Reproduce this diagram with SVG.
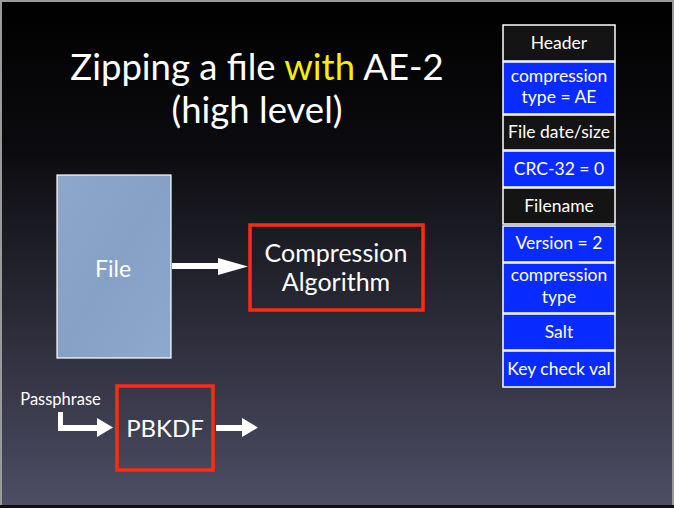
<svg xmlns="http://www.w3.org/2000/svg" width="674" height="508" viewBox="0 0 674 508">
<defs>
<linearGradient id="bg" x1="0" y1="0" x2="0" y2="1">
<stop offset="0" stop-color="#000000"/>
<stop offset="0.3" stop-color="#0c0c10"/>
<stop offset="0.6" stop-color="#282834"/>
<stop offset="1" stop-color="#4d4d65"/>
</linearGradient>
<linearGradient id="filebg" x1="0" y1="0" x2="1" y2="1">
<stop offset="0" stop-color="#8ea7cb"/>
<stop offset="0.5" stop-color="#86a0c6"/>
<stop offset="1" stop-color="#8fa8cc"/>
</linearGradient>
<style>
text{font-family:Lato,"Open Sans","Liberation Sans",sans-serif;fill:#ffffff;text-anchor:middle}
.title{font-size:36.5px}
.cell{font-size:17.5px}
.big{font-size:25px}
.blk{fill:#141414;stroke:#ffffff;stroke-width:1.5}
.blu{fill:#0a2bff;stroke:#ffffff;stroke-width:1.5}
.red{fill:none;stroke:#ff2a14;stroke-width:3.5}
.arr{fill:#ffffff}
</style>
</defs>
<rect x="0" y="0" width="674" height="508" fill="#9a9a9a"/>
<rect x="2" y="2" width="670" height="503" fill="url(#bg)"/>
<rect x="0" y="505" width="674" height="3" fill="#111111"/>

<g id="title">
<text class="title" x="257" y="80">Zipping a file <tspan fill="#f5f000" style="fill:#f5f000">with</tspan> AE-2</text>
<text class="title" x="257" y="123">(high level)</text>
</g>

<g id="header-column">
<g id="cell-header"><rect class="blk" x="503" y="25" width="112" height="36"/><text class="cell" x="559" y="49">Header</text></g>
<g id="cell-comptype-ae"><rect class="blu" x="503" y="62" width="112" height="52"/><text class="cell" x="559" y="82">compression</text><text class="cell" x="559" y="103">type = AE</text></g>
<g id="cell-filedate"><rect class="blk" x="503" y="115" width="112" height="35"/><text class="cell" x="559" y="138">File date/size</text></g>
<g id="cell-crc"><rect class="blu" x="503" y="151" width="112" height="36"/><text class="cell" x="559" y="175">CRC-32 = 0</text></g>
<g id="cell-filename"><rect class="blk" x="503" y="188" width="112" height="36"/><text class="cell" x="559" y="212">Filename</text></g>
<g id="cell-version"><rect class="blu" x="503" y="226" width="112" height="36"/><text class="cell" x="559" y="249">Version = 2</text></g>
<g id="cell-comptype"><rect class="blu" x="503" y="263" width="112" height="50"/><text class="cell" x="559" y="281">compression</text><text class="cell" x="559" y="303">type</text></g>
<g id="cell-salt"><rect class="blu" x="503" y="314" width="112" height="36"/><text class="cell" x="559" y="338">Salt</text></g>
<g id="cell-keycheck"><rect class="blu" x="503" y="351" width="112" height="36"/><text class="cell" x="559" y="375">Key check val</text></g>
</g>

<g id="file">
<rect x="57" y="175" width="114" height="183" fill="url(#filebg)" stroke="#ffffff" stroke-width="1.2"/>
<text class="big" x="113" y="277" style="font-size:23px">File</text>
</g>

<g id="compression">
<rect class="red" x="250" y="225" width="173" height="85"/>
<text class="big" x="336" y="262">Compression</text>
<text class="big" x="336" y="291">Algorithm</text>
</g>

<g id="pbkdf">
<rect class="red" x="117" y="386" width="96" height="84"/>
<text class="big" x="165" y="437" style="font-size:24px">PBKDF</text>
</g>

<g id="passphrase">
<text x="60.5" y="405" style="font-size:16.5px">Passphrase</text>
</g>

<g id="connectors">
<path class="arr" d="M172 263 H218 V258 L248 266.5 L218 275 V269 H172 Z"/>
<path class="arr" d="M58 412 H63 V425 H97 V418 L113 427.5 L97 437 V431 H58 Z"/>
<path class="arr" d="M216 425 H242 V418 L258 427.5 L242 437 V431 H216 Z"/>
</g>
</svg>
